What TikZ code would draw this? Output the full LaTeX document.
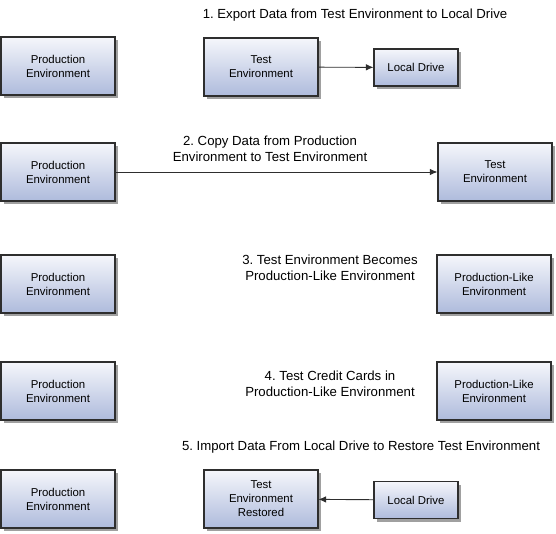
\documentclass[tikz,border=0pt]{standalone}
\usepackage{fontspec}
\setmainfont{Liberation Sans}
\usetikzlibrary{arrows.meta,positioning,shadows}
\frenchspacing
\definecolor{bDark}{HTML}{2E2E2E}
\definecolor{bTop}{HTML}{F5F6FB}
\definecolor{bBot}{HTML}{AEBBDC}
\definecolor{bShadow}{HTML}{A0A0A0}
\tikzset{
  diag/.style={
    font=\fontsize{11.4}{14}\selectfont,
    >={Latex[length=7.5pt, width=6.5pt]},
    line width=0.9pt,
  },
  envBox/.style={
    draw=bDark, line width=1.1pt,
    top color=bTop, bottom color=bBot,
    drop shadow={shadow xshift=3pt, shadow yshift=-3pt,
                 fill=bShadow, opacity=1},
    minimum width=114pt, minimum height=58pt,
    align=center, inner sep=2pt,
  },
  driveBox/.style={envBox, minimum width=84pt, minimum height=37pt},
  stepLabel/.style={align=center, inner sep=0pt,
    font=\fontsize{13.2}{15.8}\selectfont},
  move/.style={->, bDark, line width=0.9pt},
}

\begin{document}
\begin{tikzpicture}[diag, x=1pt, y=-1pt]
\useasboundingbox (0,0) rectangle (556,534);

% ============================================================
% Step 1: export
% ============================================================
\node[stepLabel] (lab1) at (355,15)
  {1. Export Data from Test Environment to Local Drive};
\node[envBox] (prod1) at (58,66) {Production\\Environment};
\node[envBox] (test1) at (261,67) {Test\\Environment};
\node[driveBox] (drive1) at (416,67.5) {Local Drive};
\draw[move] (test1) -- (drive1);

% ============================================================
% Step 2: copy
% ============================================================
\node[stepLabel] (lab2) at (270,148.5)
  {2. Copy Data from Production\\Environment to Test Environment};
\node[envBox] (prod2) at (58,172) {Production\\Environment};
\node[envBox] (test2) at (495,172) {Test\\Environment};
\draw[move] (prod2) -- (test2);

% ============================================================
% Step 3: becomes production-like
% ============================================================
\node[stepLabel] (lab3) at (330,268)
  {3. Test Environment Becomes\\Production-Like Environment};
\node[envBox] (prod3) at (58,284) {Production\\Environment};
\node[envBox] (like3) at (494,284) {Production-Like\\Environment};

% ============================================================
% Step 4: test credit cards
% ============================================================
\node[stepLabel] (lab4) at (330,383.5)
  {4. Test Credit Cards in\\Production-Like Environment};
\node[envBox] (prod4) at (58,391) {Production\\Environment};
\node[envBox] (like4) at (494,391) {Production-Like\\Environment};

% ============================================================
% Step 5: import
% ============================================================
\node[stepLabel] (lab5) at (361,447)
  {5. Import Data From Local Drive to Restore Test Environment};
\node[envBox] (prod5) at (58,499) {Production\\Environment};
\node[envBox] (rest5) at (261,499) {Test\\Environment\\Restored};
\node[driveBox] (drive5) at (416,500) {Local Drive};
\draw[move] (drive5) -- (rest5);

\end{tikzpicture}
\end{document}
